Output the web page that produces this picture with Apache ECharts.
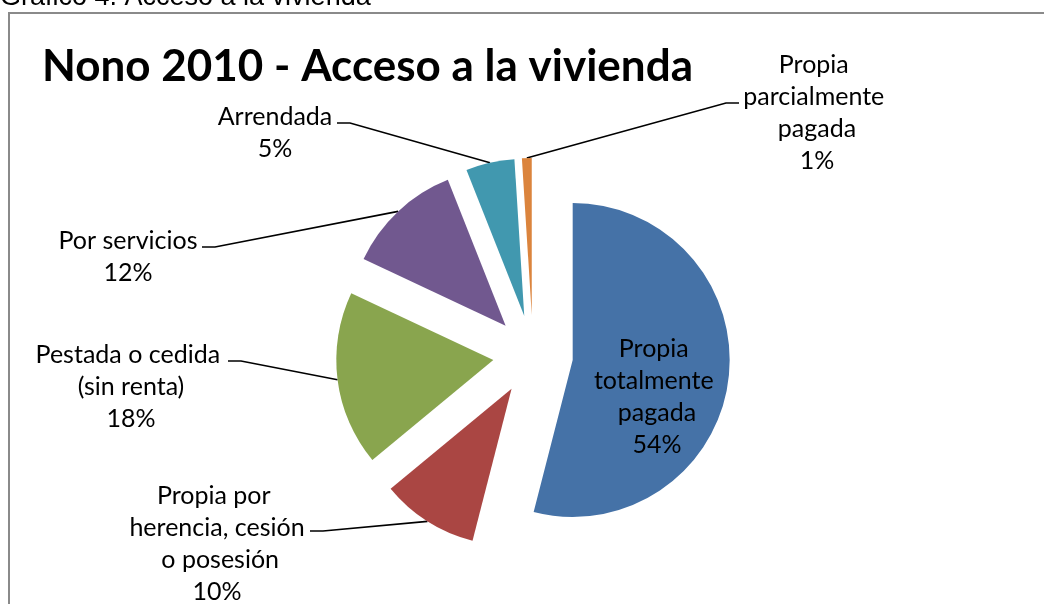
<!DOCTYPE html>
<html>
<head>
<meta charset="utf-8">
<script src="https://cdn.jsdelivr.net/npm/echarts@6/dist/echarts.min.js"></script>
<style>
    html, body { margin: 0; padding: 0; background: #fff; }
    #main { width: 1044px; height: 604px; }
</style>
</head>
<body>
<div id="main"></div>
<script>
    // slices, clockwise from 12 o'clock
    var categories = ['Propia totalmente pagada', 'Propia por herencia, cesión o posesión',
        'Pestada o cedida (sin renta)', 'Por servicios', 'Arrendada', 'Propia parcialmente pagada'];
    var percents = [54, 10, 18, 12, 5, 1];
    var colors = ['#4572a7', '#aa4643', '#89a54e', '#71588f', '#4198af', '#db843d'];

    // label placement: center x, center y, wrap width
    var labelBoxes = [[657, 397, 130], [217, 544, 190], [131, 387, 215], [128, 257, 215], [275, 133, 160], [817, 113, 150]];
    // where the leader line meets the label text (short horizontal tick goes toward the pie)
    var leaderAnchors = [null, [310, 531], [228, 361], [202, 247], [337, 123], [739, 103]];

    var pieCenter = [533, 355];
    var pieRadius = 157;
    var explode = 40;

    var chart = echarts.init(document.getElementById('main'));

    var total = percents.reduce(function (a, b) { return a + b; }, 0);
    var series = [];
    var acc = 0;
    percents.forEach(function (v, k) {
        // each slice drawn by its own pie, pushed out along its middle angle
        var mid = (acc + v / 2) / total * Math.PI * 2;
        acc += v;
        series.push({
            type: 'pie',
            center: [pieCenter[0] + explode * Math.sin(mid), pieCenter[1] - explode * Math.cos(mid)],
            radius: pieRadius,
            startAngle: 90,
            clockwise: true,
            avoidLabelOverlap: false,
            percentPrecision: 0,
            emphasis: { disabled: true },
            label: {
                formatter: '{b}\n{d}%',
                fontFamily: 'Lato',
                fontSize: 25,
                lineHeight: 32,
                color: '#000',
                overflow: 'break'
            },
            labelLine: { length: 10, length2: 10, lineStyle: { color: '#000', width: 1.6 } },
            labelLayout: function (p) {
                var b = labelBoxes[p.seriesIndex];
                var res = { x: b[0], y: b[1], align: 'center', verticalAlign: 'middle' };
                var a = leaderAnchors[p.seriesIndex];
                if (!a || !p.labelLinePoints) return res;
                var side = b[0] > pieCenter[0] ? -1 : 1;
                res.labelLinePoints = [p.labelLinePoints[0], [a[0] + side * 13, a[1]], [a[0], a[1]]];
                return res;
            },
            data: categories.map(function (name, i) {
                var own = i === k;
                return {
                    name: name,
                    value: percents[i],
                    itemStyle: { color: own ? colors[i] : 'rgba(0,0,0,0)' },
                    label: { show: own, position: i === 0 ? 'inside' : 'outside', width: labelBoxes[i][2] },
                    labelLine: { show: own && i !== 0 }
                };
            })
        });
    });

    var option = {
        animation: false,
        title: {
            text: 'Nono 2010 - Acceso a la vivienda',
            left: 37,
            top: 40,
            textStyle: { fontFamily: 'Lato', fontWeight: 'bold', fontSize: 44, color: '#000' }
        },
        graphic: [
            {
                type: 'text', x: 0, y: 11,
                style: { text: 'Gráfico 4. Acceso a la vivienda', fontFamily: 'Liberation Sans', fontSize: 27, fill: '#000', verticalAlign: 'bottom' }
            },
            {
                type: 'rect', shape: { x: 9, y: 13, width: 1200, height: 800 },
                style: { fill: 'none', stroke: '#8a8a8a', lineWidth: 2 }
            }
        ],
        series: series
    };

    chart.setOption(option);
</script>
</body>
</html>
